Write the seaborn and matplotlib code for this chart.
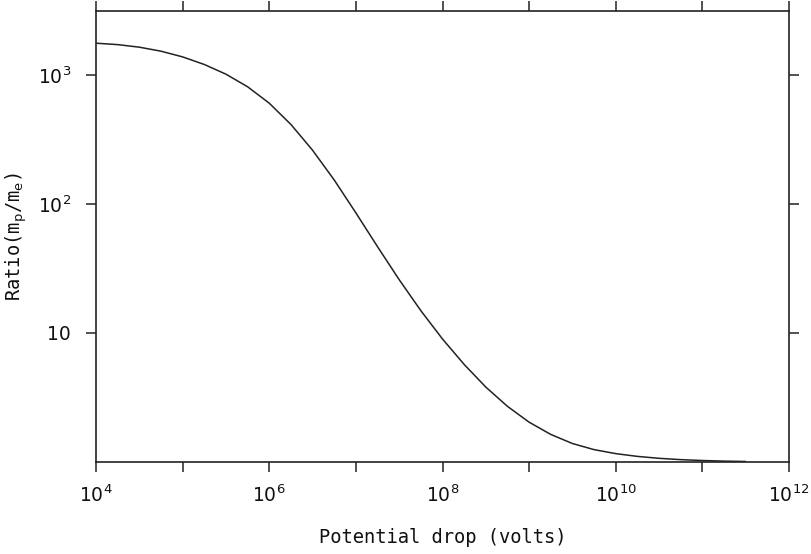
import matplotlib
matplotlib.use('Agg')
import matplotlib.pyplot as plt
from matplotlib.ticker import NullLocator
import seaborn as sns
import pandas as pd

# potential drop (volts) and the mass ratio
volts = [1e4, 1.78e4, 3.16e4, 5.62e4, 1e5, 1.78e5, 3.16e5, 5.62e5,
         1e6, 1.78e6, 3.16e6, 5.62e6, 1e7, 1.78e7, 3.16e7, 5.62e7,
         1e8, 1.78e8, 3.16e8, 5.62e8, 1e9, 1.78e9, 3.16e9, 5.62e9,
         1e10, 1.78e10, 3.16e10, 5.62e10, 1e11, 1.78e11, 3.16e11]
ratio = [1762, 1718, 1641, 1528, 1380, 1205, 1014, 810,
         604, 413, 261, 153.5, 85.3, 46.6, 25.9, 14.9,
         8.98, 5.70, 3.81, 2.70, 2.035, 1.635, 1.391, 1.247,
         1.161, 1.105, 1.068, 1.043, 1.027, 1.016, 1.009]

x_ticks = [1e4, 1e5, 1e6, 1e7, 1e8, 1e9, 1e10, 1e11, 1e12]
x_labels = [r'$10^{4}$', '', r'$10^{6}$', '', r'$10^{8}$', '', r'$10^{10}$', '', r'$10^{12}$']
y_ticks = [10, 100, 1000]
y_labels = ['10', r'$10^{2}$', r'$10^{3}$']

df = pd.DataFrame({'volts': volts, 'ratio': ratio})

sns.set_theme(style='white')
plt.rcParams['font.family'] = ['DejaVu Sans']

fig = plt.figure(figsize=(8.11, 5.54), dpi=100)
ax = fig.add_axes([96 / 811, 1 - 462 / 554, (789 - 96) / 811, (462 - 11) / 554])
ax.set_xscale('log')
ax.set_yscale('log')

sns.lineplot(data=df, x='volts', y='ratio', color='#222222', linewidth=1.1, ax=ax)

ax.set_xlim(1e4, 1e12)
ax.set_ylim(1, 3130)
ax.set_xticks(x_ticks)
ax.set_xticklabels(x_labels, fontsize=13.5)
ax.set_yticks(y_ticks)
ax.set_yticklabels(y_labels, fontsize=13.5)
ax.xaxis.set_minor_locator(NullLocator())
ax.yaxis.set_minor_locator(NullLocator())
ax.tick_params(axis='both', which='major', direction='out', length=7, width=1.1,
               color='#222222', labelcolor='#111111',
               top=True, right=True, bottom=True, left=True)
ax.tick_params(axis='x', pad=9)
ax.tick_params(axis='y', pad=11)

for s in ax.spines.values():
    s.set_color('#222222')
    s.set_linewidth(1.2)

ax.set_xlabel('Potential drop (volts)', fontsize=13.5, family='DejaVu Sans Mono', color='#111111')
ax.set_ylabel(r'Ratio(m$_\mathrm{p}$/m$_\mathrm{e}$)', fontsize=13.5, family='DejaVu Sans Mono', color='#111111')
ax.xaxis.set_label_coords(0.5, -0.146)
ax.yaxis.set_label_coords(-0.097, 0.5)

fig.savefig('out.png', dpi=100, facecolor='white')
